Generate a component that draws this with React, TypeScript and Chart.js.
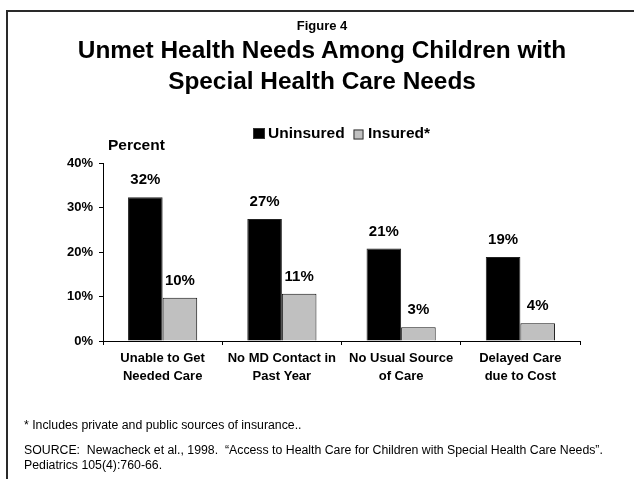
import React, { useEffect, useRef } from 'react';
import { Chart, registerables } from 'chart.js';

Chart.register(...registerables);

const categories: string[][] = [
  ['Unable to Get', 'Needed Care'],
  ['No MD Contact in', 'Past Year'],
  ['No Usual Source', 'of Care'],
  ['Delayed Care', 'due to Cost'],
];
const seriesNames = ['Uninsured', 'Insured*'];
const uninsured = [32.3, 27.4, 20.8, 18.9];
const insured = [9.7, 10.6, 3.1, 4.0];
const uninsuredLabels = ['32%', '27%', '21%', '19%'];
const insuredLabels = ['10%', '11%', '3%', '4%'];
const yMin = 0;
const yMax = 40;
const yStep = 10;

const FONT = '"Liberation Sans", Arial, Helvetica, sans-serif';

const overlayPlugin = {
  id: 'overlay',
  afterDatasetsDraw(chart: any) {
    const ctx = chart.ctx;
    ctx.save();
    // data labels
    const labelSets = [uninsuredLabels, insuredLabels];
    chart.data.datasets.forEach((ds: any, di: number) => {
      const meta = chart.getDatasetMeta(di);
      meta.data.forEach((el: any, i: number) => {
        ctx.font = `bold 15px ${FONT}`;
        ctx.fillStyle = '#000';
        ctx.textAlign = 'center';
        ctx.textBaseline = 'middle';
        ctx.fillText(labelSets[di][i], el.x, el.y - 17);
      });
    });
    // "Percent" axis title
    ctx.font = `bold 15.5px ${FONT}`;
    ctx.textAlign = 'left';
    ctx.textBaseline = 'middle';
    ctx.fillStyle = '#000';
    ctx.fillText('Percent', 108, 146);
    // legend
    const items = [
      { x: 253, y: 128, w: 12, h: 11, tx: 268 },
      { x: 353.5, y: 129.5, w: 10, h: 10, tx: 368 },
    ];
    chart.data.datasets.forEach((ds: any, di: number) => {
      const it = items[di];
      ctx.fillStyle = ds.backgroundColor;
      ctx.fillRect(it.x, it.y, it.w, it.h);
      ctx.strokeStyle = '#333';
      ctx.lineWidth = 1;
      ctx.strokeRect(it.x + 0.5, it.y + 0.5, it.w - 1, it.h - 1);
      ctx.fillStyle = '#000';
      ctx.font = `bold 15.5px ${FONT}`;
      ctx.textAlign = 'left';
      ctx.textBaseline = 'middle';
      ctx.fillText(ds.label, it.tx, 134);
    });
    ctx.restore();
  },
};

export default function App() {
  const ref = useRef<HTMLCanvasElement | null>(null);

  useEffect(() => {
    if (!ref.current) return;
    const chart = new Chart(ref.current, {
      type: 'bar',
      data: {
        labels: categories,
        datasets: [
          {
            label: seriesNames[0],
            data: uninsured,
            backgroundColor: '#000000',
            borderColor: '#222222',
            borderWidth: 1,
            categoryPercentage: 0.58,
            barPercentage: 1,
          },
          {
            label: seriesNames[1],
            data: insured,
            backgroundColor: '#c0c0c0',
            borderColor: '#111111',
            borderWidth: 1,
            categoryPercentage: 0.58,
            barPercentage: 1,
          },
        ],
      },
      options: {
        responsive: false,
        animation: false,
        devicePixelRatio: 1,
        layout: { padding: { top: 163, left: 0, right: 54, bottom: 0 } },
        plugins: {
          legend: { display: false },
          title: { display: false },
          tooltip: { enabled: false },
        },
        scales: {
          x: {
            afterFit: (scale: any) => {
              scale.height = 138;
            },
            grid: {
              display: true,
              drawOnChartArea: false,
              drawTicks: true,
              tickLength: 4,
              color: '#000',
              offset: true,
            },
            border: { display: true, color: '#000', width: 1 },
            ticks: {
              color: '#000',
              font: { family: FONT, size: 13, weight: 'bold', lineHeight: 1.33 },
              padding: 5,
              maxRotation: 0,
              minRotation: 0,
              autoSkip: false,
            },
          },
          y: {
            min: yMin,
            max: yMax,
            afterFit: (scale: any) => {
              scale.width = 103;
            },
            grid: {
              display: true,
              drawOnChartArea: false,
              drawTicks: true,
              tickLength: 4,
              color: '#000',
            },
            border: { display: true, color: '#000', width: 1 },
            ticks: {
              stepSize: yStep,
              color: '#000',
              padding: 6,
              font: { family: FONT, size: 13, weight: 'bold' },
              callback: (v: any) => `${v}%`,
            },
          },
        },
      },
      plugins: [overlayPlugin],
    });
    return () => chart.destroy();
  }, []);

  return (
    <div
      style={{
        position: 'fixed',
        left: 0,
        top: 0,
        width: 634,
        height: 479,
        overflow: 'hidden',
        background: '#fff',
        fontFamily: FONT,
        color: '#000',
      }}
    >
      <div
        style={{
          position: 'absolute',
          left: 6,
          top: 10,
          width: 700,
          height: 600,
          border: '2px solid #2a2a2a',
          boxSizing: 'border-box',
        }}
      />
      <canvas
        ref={ref}
        width={634}
        height={479}
        style={{ position: 'absolute', left: 0, top: 0, width: 634, height: 479 }}
      />
      <div
        style={{
          position: 'absolute',
          left: 0,
          width: 644,
          top: 18,
          textAlign: 'center',
          fontWeight: 'bold',
          fontSize: 13,
          lineHeight: '16px',
        }}
      >
        Figure 4
      </div>
      <div
        style={{
          position: 'absolute',
          left: 0,
          width: 644,
          top: 33.5,
          textAlign: 'center',
          fontWeight: 'bold',
          fontSize: 24.4,
          lineHeight: '31px',
        }}
      >
        Unmet Health Needs Among Children with
        <br />
        Special Health Care Needs
      </div>
      <div
        style={{
          position: 'absolute',
          left: 24,
          top: 417.5,
          fontSize: 12.3,
          lineHeight: '15px',
          whiteSpace: 'nowrap',
        }}
      >
        * Includes private and public sources of insurance..
      </div>
      <div
        style={{
          position: 'absolute',
          left: 24,
          top: 443,
          fontSize: 12.3,
          lineHeight: '14.5px',
          whiteSpace: 'nowrap',
        }}
      >
        SOURCE:&nbsp; Newacheck et al., 1998.&nbsp; “Access to Health Care for Children with Special Health Care Needs”.
        <br />
        Pediatrics 105(4):760-66.
      </div>
    </div>
  );
}
